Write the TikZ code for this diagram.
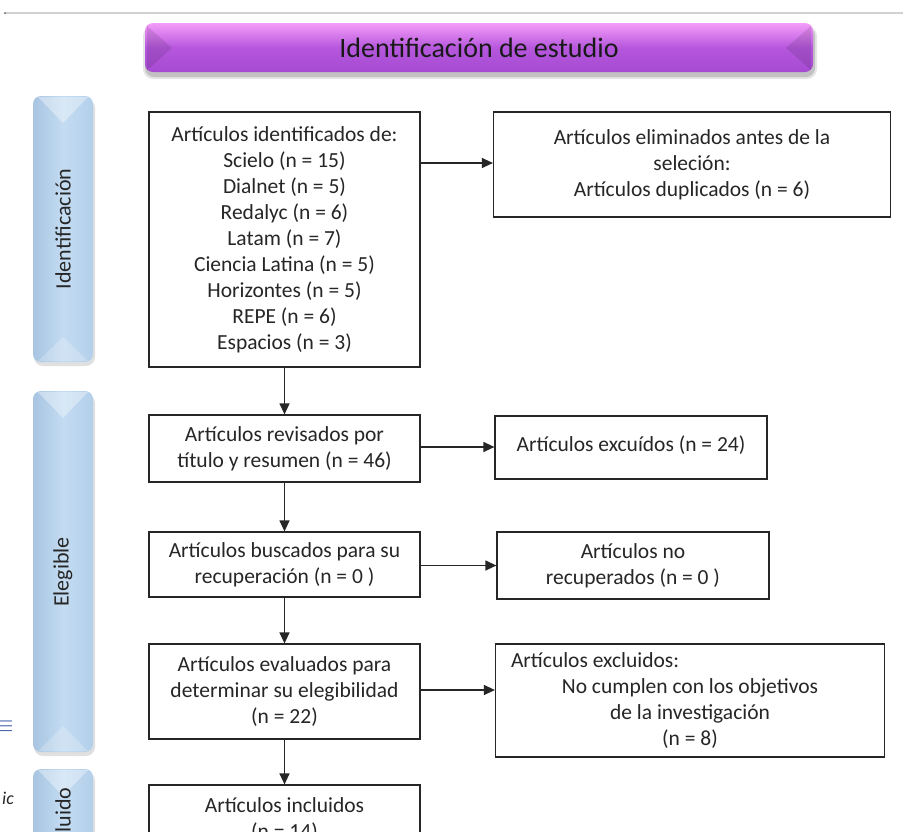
\documentclass[tikz,border=0pt]{standalone}
\usepackage{fontspec}
\setmainfont{Carlito}
\usetikzlibrary{arrows.meta}
\definecolor{bandtop}{HTML}{F49CF9}
\definecolor{bandmid}{HTML}{B657DD}
\definecolor{bandbot}{HTML}{A54BD2}
\definecolor{barL}{HTML}{A7C4E1}
\definecolor{barM}{HTML}{C4DCF2}
\definecolor{barR}{HTML}{B3CFEA}
\definecolor{edge}{HTML}{262626}
\definecolor{txt}{HTML}{262626}
\definecolor{linkblue}{HTML}{3A55A8}
\begin{document}
\begin{tikzpicture}[x=1pt,y=-1pt,
  box/.style={draw=edge,line width=1.2pt,inner sep=0pt,align=center,
    font=\fontsize{21.5}{26}\selectfont,text=txt},
  conn/.style={draw=edge,line width=1.2pt,-{Triangle[length=11pt,width=10pt]}},
  barshade/.style={rounded corners=8pt,left color=barL,right color=barR,middle color=barM},
  barshadow/.style={rounded corners=9pt,fill=black,opacity=0.12},
  sidelabel/.style={rotate=90,font=\fontsize{22}{26}\selectfont,text=txt,inner sep=0pt}]
\useasboundingbox (0,0) rectangle (903,831);
\clip (0,0) rectangle (903,831);
\fill[white] (0,0) rectangle (903,831);
% top rule
\draw[black!18,line width=1.6pt] (5,13) -- (903,13);
\fill[black!60] (5,13) circle (1pt);
% banner
\fill[black,opacity=0.15,rounded corners=9pt] (145,27) rectangle (815,77);
\fill[black,opacity=0.10,rounded corners=10pt] (143,26) rectangle (817,79);
\shade[rounded corners=8pt,top color=bandtop,bottom color=bandbot,middle color=bandmid] (145,23) rectangle (813,72);
\fill[black,opacity=0.10] (147,26) -- (172,48) -- (147,70) -- cycle;
\fill[black,opacity=0.10] (811,26) -- (786,48) -- (811,70) -- cycle;
\node[font=\fontsize{28}{32}\selectfont,text=black!90,inner sep=0pt] (title) at (479,48) {Identificación de estudio};
% side bars
\fill[barshadow] (34,99) rectangle (95,366);
\shade[barshade] (33,96) rectangle (93,362);
\fill[white,opacity=0.35] (38,97) -- (88,97) -- (63,123) -- cycle;
\fill[white,opacity=0.22] (38,361) -- (88,361) -- (63,337) -- cycle;
\node[sidelabel] (labA) at (63,229) {Identificación};
\fill[barshadow] (34,394) rectangle (95,756);
\shade[barshade] (33,391) rectangle (93,752);
\fill[white,opacity=0.35] (38,392) -- (88,392) -- (63,418) -- cycle;
\fill[white,opacity=0.22] (38,751) -- (88,751) -- (63,726) -- cycle;
\node[sidelabel] (labB) at (63,572) {Elegible};
\fill[barshadow] (34,772) rectangle (95,900);
\shade[barshade] (33,769) rectangle (93,900);
\fill[white,opacity=0.35] (38,770) -- (88,770) -- (63,796) -- cycle;
\node[sidelabel] (labC) at (63,823) {Incluido};
% margin fragments
\node[text=linkblue,font=\fontsize{24}{26}\selectfont,inner sep=0pt] (frag1) at (4,727) {$\equiv$};
\node[anchor=east,font=\fontsize{18}{20}\selectfont\itshape,text=black!85,inner sep=0pt] (frag2) at (14,798) {ic};
% main column
\node[box,minimum width=271pt,minimum height=255pt] (b1) at (284.5,239.5)
  {Artículos identificados de:\\Scielo (n = 15)\\Dialnet (n = 5)\\Redalyc (n = 6)\\Latam (n = 7)\\Ciencia Latina (n = 5)\\Horizontes (n = 5)\\REPE (n = 6)\\Espacios (n = 3)};
\node[box,minimum width=271pt,minimum height=67pt] (b2) at (284.5,448.5)
  {Artículos revisados por\\título y resumen (n = 46)};
\node[box,minimum width=271pt,minimum height=65pt] (b3) at (284.5,564.5)
  {Artículos buscados para su\\recuperación (n = 0 )};
\node[box,minimum width=271pt,minimum height=95pt] (b4) at (284.5,691.5)
  {Artículos evaluados para\\determinar su elegibilidad\\(n = 22)};
\node[box,minimum width=271pt,minimum height=70pt] (b5) at (284.5,820)
  {Artículos incluidos\\(n = 14)};
% right column
\node[box,minimum width=397pt,minimum height=105pt] (r1) at (692,164.5)
  {Artículos eliminados antes de la\\seleción:\\Artículos duplicados (n = 6)};
\node[box,minimum width=272pt,minimum height=63pt] (r2) at (631,447.5)
  {\raisebox{7pt}{Artículos excuídos (n = 24)}};
\node[box,minimum width=272pt,minimum height=67pt] (r3) at (633,565.5)
  {Artículos no\\recuperados (n = 0 )};
\node[box,minimum width=389pt,minimum height=113pt] (r4) at (690,700.5)
  {\makebox[358pt][l]{Artículos excluidos:}\\No cumplen con los objetivos\\de la investigación\\(n = 8)};
% connectors
\draw[conn] (b1.south) -- (b2.north);
\draw[conn] (b2.south) -- (b3.north);
\draw[conn] (b3.south) -- (b4.north);
\draw[conn] (b4.south) -- (b5.north);
\draw[conn] (b1.east |- r1.west) ++(0,-1.5) coordinate (s1) (s1) -- (s1 -| r1.west);
\draw[conn] (b2.east) ++(0,-1.5) coordinate (s2) (s2) -- (s2 -| r2.west);
\draw[conn] (b3.east) ++(0,1) coordinate (s3) (s3) -- (s3 -| r3.west);
\draw[conn] (b4.east) ++(0,-1.5) coordinate (s4) (s4) -- (s4 -| r4.west);
\end{tikzpicture}
\end{document}
